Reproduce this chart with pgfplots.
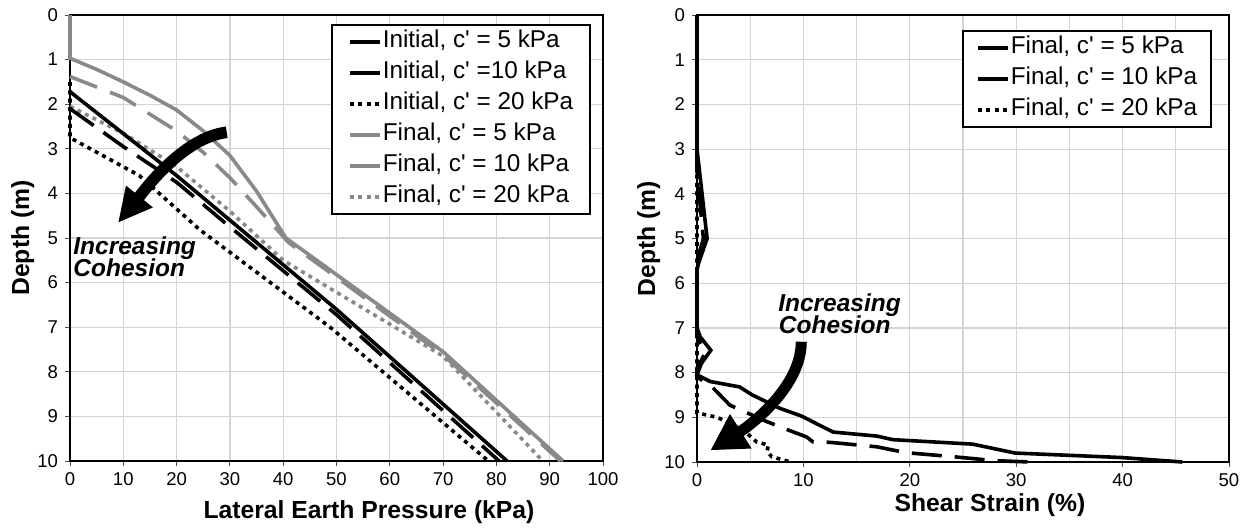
\documentclass[border=0pt]{standalone}
\usepackage{fontspec}
\setmainfont{Liberation Sans}
\usepackage{pgfplots}
\pgfplotsset{compat=1.18}
\usetikzlibrary{arrows.meta}
\definecolor{lg}{RGB}{137,137,137}
\definecolor{gridc}{RGB}{212,212,212}

\newcommand{\lblfont}{\bfseries\fontsize{12.4}{14}\selectfont}
\newcommand{\annfont}{\bfseries\itshape\fontsize{12.3}{14}\selectfont}
\newcommand{\cq}{c\textquotesingle}

\pgfplotsset{
  depthaxis/.style={
    scale only axis, y dir=reverse,
    ymin=0, ymax=10, ytick={0,...,10},
    axis line style={black, line width=0.9bp},
    grid=major, major grid style={gridc, line width=0.6bp},
    minor grid style={gridc, line width=0.6bp},
    tick align=outside, tick pos=left,
    major tick length=2.5bp, minor tick length=0bp,
    tick style={black!70, line width=0.5bp},
    tick label style={font=\fontsize{9.3}{11}\selectfont},
    /pgf/number format/assume math mode=true,
    clip=false,
    legend cell align=left,
    legend style={draw=black, line width=0.8bp, fill=white, anchor=north east,
      font=\fontsize{12.2}{14}\selectfont, inner ysep=2bp, row sep=2.5bp,
      nodes={inner xsep=0.5bp, inner ysep=0.5bp, text height=9bp, text depth=3bp}},
    legend image code/.code={\draw[#1] (0bp,0bp) -- (15bp,0bp);},
  },
  solidb/.style={black, line width=1.8bp},
  dashb/.style={black, line width=1.8bp, dash pattern=on 14.5bp off 6bp},
  dotb/.style={black, line width=1.8bp, dash pattern=on 2bp off 2.2bp},
  solidg/.style={lg, line width=1.8bp},
  dashg/.style={lg, line width=1.8bp, dash pattern=on 14.5bp off 7bp},
  dotg/.style={lg, line width=1.8bp, dash pattern=on 2bp off 2.2bp},
}

\begin{document}
\begin{tikzpicture}
\useasboundingbox (0,0) rectangle (623.5bp,264.5bp);

% ---------------- left: lateral earth pressure ----------------
\begin{axis}[depthaxis, name=L, at={(35bp,34bp)}, anchor=south west,
  width=266.5bp, height=223bp,
  xmin=0, xmax=100, xtick={0,10,...,100},
  legend style={at={(axis description cs:0.9775,0.98)}, inner xsep=8bp},
]
\addplot[dotg, forget plot] coordinates {
  (0,2.05) (10,2.65) (20,3.4) (30,4.4) (40,5.5) (70,7.65) (88.7,10)};
\addplot[dashg, forget plot] coordinates {
  (0,1.38) (10,1.85) (20,2.6) (25,3.08) (30,3.65) (35,4.3) (41,5.1) (70,7.62) (92,10)};
\addplot[solidb, forget plot] coordinates {
  (0,1.72) (20,3.6) (50,6.6) (82,10)};
\addplot[dashb, forget plot] coordinates {
  (0,2.1) (10,2.95) (20,3.75) (30,4.75) (50,6.72) (80.5,10)};
\addplot[dotb, forget plot] coordinates {
  (0,1.5) (0,2.75) (13,3.6) (24.4,4.82) (48.8,7.0) (78.5,10)};
\addplot[solidg, forget plot] coordinates {
  (0,0) (0,0.97) (5,1.22) (10,1.5) (15,1.8) (20,2.13) (25,2.6) (30,3.15)
  (35,3.95) (40.5,5.0) (70,7.55) (92.5,10)};

\draw[line width=5.8bp, -{Triangle[length=17bp, width=16bp]}]
  (axis cs:29.4,2.63) .. controls (axis cs:21,2.75) and (axis cs:13.5,4.0) .. (axis cs:9,4.66);
\node[anchor=base west, inner sep=0, font=\annfont] at (axis cs:0.56,5.36) {Increasing};
\node[anchor=base west, inner sep=0, font=\annfont] at (axis cs:0.56,5.87) {Cohesion};

\addlegendimage{solidb}
\addlegendentry{Initial, \cq{} = 5 kPa}
\addlegendimage{solidb}
\addlegendentry{Initial, \cq{} =10 kPa}
\addlegendimage{dotb}
\addlegendentry{Initial, \cq{} = 20 kPa}
\addlegendimage{solidg}
\addlegendentry{Final, \cq{} = 5 kPa}
\addlegendimage{solidg}
\addlegendentry{Final, \cq{} = 10 kPa}
\addlegendimage{dotg}
\addlegendentry{Final, \cq{} = 20 kPa}
\end{axis}

% ---------------- right: shear strain ----------------
\begin{axis}[depthaxis, name=R, at={(348.5bp,33.5bp)}, anchor=south west,
  width=266bp, height=223.5bp,
  xmin=0, xmax=50, xtick={0,10,...,50},
  minor x tick num=1, xminorgrids=true,
  legend style={at={(axis description cs:0.968,0.966)}, inner xsep=6.5bp},
]
\addplot[dotb, forget plot] coordinates {
  (0,0) (0,8.9) (1.9,9.0) (3.4,9.17) (4.7,9.36) (5.6,9.55) (6.7,9.62)
  (6.6,9.75) (7.0,9.88) (8.8,10)};
\addplot[dashb, dash pattern=on 15bp off 6.5bp, forget plot] coordinates {
  (0,0) (0,3.5) (0.6,5.0) (0,5.5) (0,7.2) (0.8,7.55) (0,7.9) (0,8.1)
  (1.25,8.28) (3.1,8.73) (6.6,9.1) (8.75,9.3) (10.3,9.44) (10.9,9.55)
  (12.5,9.56) (16.9,9.66) (19.6,9.79) (24,9.88) (28,9.97) (31.3,10)};
\addplot[solidb, forget plot] coordinates {
  (0,0) (0,3.0) (0.95,5.0) (0.15,5.55) (0,5.7) (0,7.0) (0.3,7.2) (1.3,7.5)
  (0.4,7.8) (0,8.05) (1.25,8.2) (4.0,8.32) (5.2,8.5) (7.8,8.8) (9.8,8.97)
  (12.8,9.33) (16.9,9.42) (18.4,9.5) (25.9,9.6) (29.9,9.8) (39.9,9.9) (45.6,10)};

\draw[line width=5.5bp, -{Triangle[length=18bp, width=19bp]}]
  (axis cs:9.8,7.31) .. controls (axis cs:9.8,8.3) and (axis cs:5.2,9.15) .. (axis cs:1.25,9.74);
\node[anchor=base west, inner sep=0, font=\annfont] at (axis cs:7.6,6.63) {Increasing};
\node[anchor=base west, inner sep=0, font=\annfont] at (axis cs:7.66,7.13) {Cohesion};

\addlegendimage{solidb}
\addlegendentry{Final, \cq{} = 5 kPa}
\addlegendimage{solidb}
\addlegendentry{Final, \cq{} = 10 kPa}
\addlegendimage{dotb}
\addlegendentry{Final, \cq{} = 20 kPa}
\end{axis}

% axis titles
\path (L.south) ++(16.25bp,-28.5bp) node[anchor=base, font=\lblfont] {Lateral Earth Pressure (kPa)};
\path (R.south) ++(13.5bp,-24.5bp) node[anchor=base, font=\lblfont] {Shear Strain (\%)};
\path (L.west) ++(-20.5bp,0) node[rotate=90, anchor=base, font=\lblfont] {Depth (m)};
\path (R.west) ++(-21bp,0) node[rotate=90, anchor=base, font=\lblfont] {Depth (m)};
\end{tikzpicture}
\end{document}
